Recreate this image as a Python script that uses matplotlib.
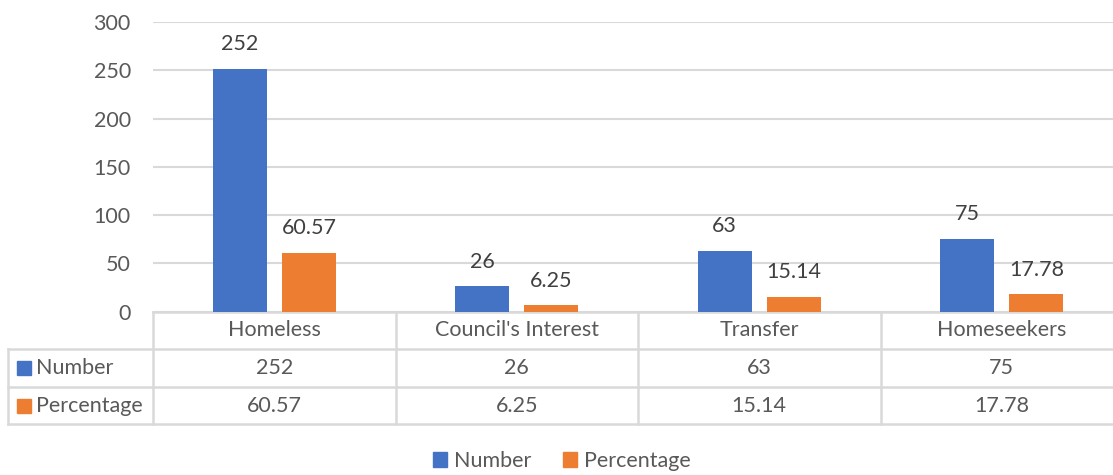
import matplotlib.pyplot as plt
from matplotlib.patches import Patch, Rectangle
from matplotlib.transforms import blended_transform_factory

categories = ["Homeless", "Council's Interest", "Transfer", "Homeseekers"]
number = [252, 26, 63, 75]
percentage = [60.57, 6.25, 15.14, 17.78]
number_labels = ["252", "26", "63", "75"]
percentage_labels = ["60.57", "6.25", "15.14", "17.78"]

blue = '#4472C4'
orange = '#ED7D31'
grey_text = '#595959'
line_col = '#D9D9D9'
fs = 15.5

plt.rcParams['font.family'] = ['Lato', 'DejaVu Sans']

W, H = 1113, 475
fig = plt.figure(figsize=(W / 100, H / 100), dpi=100)
# plot area in pixels: x 153..1123, y 22..311.5
ax = fig.add_axes([153 / W, (H - 311.5) / H, 970 / W, 289.2 / H])

x = list(range(len(categories)))
off, bw = 0.143, 0.223
ax.bar([i - off for i in x], number, width=bw, color=blue, zorder=3)
ax.bar([i + off for i in x], percentage, width=bw, color=orange, zorder=3)

for i in x:
    ax.annotate(number_labels[i], (i - off, number[i]), xytext=(0, 13.5),
                textcoords='offset points', ha='center', va='baseline',
                fontsize=fs, color='#404040')
    ax.annotate(percentage_labels[i], (i + off, percentage[i]), xytext=(0, 13.5),
                textcoords='offset points', ha='center', va='baseline',
                fontsize=fs, color='#404040')

ax.set_xlim(-0.5, len(categories) - 0.5)
ax.set_ylim(0, 300)
ax.set_yticks(range(0, 301, 50))
ax.tick_params(axis='y', length=0, pad=16, labelsize=fs, labelcolor=grey_text)
ax.set_xticks([])
ax.grid(axis='y', color=line_col, linewidth=1.5, zorder=0)
for s in ax.spines.values():
    s.set_visible(False)

# data table under the chart
rh = 37.6 / 289.2
tr = blended_transform_factory(ax.transData, ax.transAxes)
left = -145 / 970
lw = 1.8
# horizontal lines
ax.plot([-0.5, 3.5], [0, 0], transform=tr, color=line_col, lw=lw, clip_on=False)
for k in (1, 2, 3):
    ax.plot([left, 1.02], [-k * rh, -k * rh], transform=ax.transAxes,
            color=line_col, lw=lw, clip_on=False)
# vertical lines
ax.plot([left, left], [-rh, -3 * rh], transform=ax.transAxes, color=line_col,
        lw=lw, clip_on=False)
for b in [i - 0.5 for i in x] + [len(categories) - 0.5]:
    ax.plot([b, b], [0, -3 * rh], transform=tr, color=line_col, lw=lw, clip_on=False)

for i, c in enumerate(categories):
    ax.text(i, -0.5 * rh, c, transform=tr, ha='center', va='center',
            fontsize=fs, color=grey_text)
    ax.text(i, -1.5 * rh, number_labels[i], transform=tr, ha='center', va='center',
            fontsize=fs, color=grey_text)
    ax.text(i, -2.5 * rh, percentage_labels[i], transform=tr, ha='center', va='center',
            fontsize=fs, color=grey_text)

for k, (name, col) in enumerate([("Number", blue), ("Percentage", orange)]):
    yc = -(1.5 + k) * rh
    sq = 14 / 289.2
    ax.add_patch(Rectangle((-136 / 970, yc - sq / 2), 14 / 970, sq,
                           transform=ax.transAxes, color=col, clip_on=False))
    ax.text(-117 / 970, yc, name, transform=ax.transAxes, ha='left', va='center',
            fontsize=fs, color=grey_text)

handles = [Patch(color=blue, label='Number'), Patch(color=orange, label='Percentage')]
fig.legend(handles=handles, loc='center', bbox_to_anchor=(562 / W, 1 - 461 / H),
           ncol=2, frameon=False, fontsize=fs, labelcolor=grey_text,
           handlelength=0.65, handleheight=0.65, handletextpad=0.3, columnspacing=1.5)

fig.savefig('out.png', dpi=100)
